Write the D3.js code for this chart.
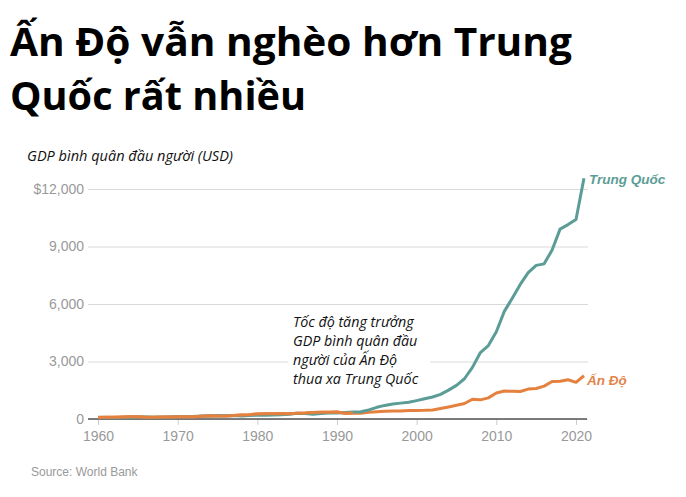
<!DOCTYPE html>
<html><head><meta charset="utf-8">
<script src="https://cdn.jsdelivr.net/npm/d3@7"></script>
<style>body{margin:0;background:#fff}svg{display:block}</style>
</head><body>
<svg id="c" width="686" height="497"></svg>
<script>
const years = d3.range(1960, 2022);
const china = [89.5,75.8,70.9,74.3,85.5,98.5,104.3,96.6,91.5,100.1,113.2,118.7,131.9,157.1,160.1,178.3,165.4,185.4,156.4,183.9,194.8,197.1,203.3,225.4,250.7,294.5,281.9,251.8,283.5,310.9,317.9,333.1,366.5,377.4,473.5,609.7,709.4,781.7,828.6,873.3,959.4,1053.1,1148.5,1288.6,1508.7,1753.4,2099.2,2694.0,3468.3,3832.2,4550.5,5614.4,6300.6,7020.4,7636.1,8016.4,8094.4,8817.0,9905.3,10143.9,10408.7,12556.3];
const india = [82.2,85.4,89.9,101.1,115.5,119.0,89.9,96.0,98.5,106.7,112.4,118.6,122.9,143.7,163.2,158.0,161.1,186.4,205.7,224.0,266.6,270.5,274.2,291.2,276.7,296.4,310.5,340.4,354.2,346.1,367.6,303.1,316.9,301.2,346.2,373.8,399.9,415.5,413.3,441.8,443.3,451.6,470.0,546.7,627.8,714.9,806.8,1028.3,998.5,1102.0,1357.6,1458.1,1443.9,1438.1,1559.9,1590.2,1714.3,1958.0,1974.4,2050.2,1913.2,2256.6];
const yTicks = [0,3000,6000,9000,12000];
const xTicks = [1960,1970,1980,1990,2000,2010,2020];
const titleLines = ["Ấn Độ vẫn nghèo hơn Trung","Quốc rất nhiều"];
const yTitle = "GDP bình quân đầu người (USD)";
const note = ["Tốc độ tăng trưởng","GDP bình quân đầu","người của Ấn Độ","thua xa Trung Quốc"];
const seriesNames = ["Trung Quốc","Ấn Độ"];
const source = "Source: World Bank";

const svg = d3.select("#c");
const x = d3.scaleLinear().domain([1960,2020]).range([98,576]);
const y = d3.scaleLinear().domain([0,12000]).range([419,189]);
const teal = "#5c9c96", orange = "#e5813f";

// title
const tl = svg.append("g");
tl.append("text").attr("x",10).attr("y",56).text(titleLines[0])
  .attr("textLength",562).attr("lengthAdjust","spacingAndGlyphs");
tl.append("text").attr("x",10).attr("y",110).text(titleLines[1])
  .attr("textLength",296).attr("lengthAdjust","spacingAndGlyphs");
tl.selectAll("text").attr("font-family","'Open Sans'").attr("font-weight",700).attr("font-size",39).attr("fill","#000");

svg.append("text").attr("x",27).attr("y",161).text(yTitle)
  .attr("font-family","'Open Sans'").attr("font-style","italic").attr("font-size",14.5)
  .attr("textLength",206).attr("lengthAdjust","spacingAndGlyphs").attr("fill","#111");

// gridlines + y labels
const yAxis = d3.axisLeft(y).tickValues(yTicks).tickSize(-500).tickPadding(4)
  .tickFormat(d => d === 12000 ? "$" + d3.format(",")(d) : d3.format(",")(d));
const ga = svg.append("g").attr("transform","translate(88,0)").call(yAxis);
ga.select(".domain").remove();
ga.selectAll(".tick line").attr("stroke","#d9d9d9").attr("stroke-width",1);
ga.selectAll(".tick text").attr("font-family","'Liberation Sans', Arial").attr("font-size",14).attr("fill","#999");

// annotation box
svg.append("rect").attr("x",288).attr("y",309).attr("width",142).attr("height",83).attr("fill","#fff");
const nt = svg.append("g");
note.forEach((t,i)=>{
  nt.append("text").attr("x",293).attr("y",327+i*19).text(t)
    .attr("font-family","'Open Sans'").attr("font-style","italic").attr("font-size",14.3).attr("fill","#111");
});

// x axis
const xAxis = d3.axisBottom(x).tickValues(xTicks).tickFormat(d3.format("d")).tickSize(6).tickPadding(6);
const gx = svg.append("g").attr("transform","translate(0,419)").call(xAxis);
gx.select(".domain").remove();
gx.selectAll(".tick line").attr("stroke","#ccc");
gx.selectAll(".tick text").attr("font-family","'Liberation Sans', Arial").attr("font-size",14).attr("fill","#999");
svg.append("line").attr("x1",88).attr("x2",587).attr("y1",y(0)).attr("y2",y(0)).attr("stroke","#555").attr("stroke-width",1.5);

// lines
const line = d3.line().x((d,i)=>x(years[i])).y(d=>y(d));
svg.append("path").datum(india).attr("d",line).attr("fill","none").attr("stroke",orange).attr("stroke-width",3).attr("stroke-linejoin","round");
svg.append("path").datum(china).attr("d",line).attr("fill","none").attr("stroke",teal).attr("stroke-width",3).attr("stroke-linejoin","round");
// redraw India where it's above China (early years)
svg.append("path").datum(india.slice(0,33)).attr("d",line).attr("fill","none").attr("stroke",orange).attr("stroke-width",3).attr("stroke-linejoin","round");

// series labels
svg.append("text").attr("x",589).attr("y",184).text(seriesNames[0]).attr("fill",teal);
svg.append("text").attr("x",587).attr("y",385).text(seriesNames[1]).attr("fill","#e3844a");
svg.selectAll("text").filter(function(){return seriesNames.includes(this.textContent);})
  .attr("font-family","'Liberation Sans', Arial").attr("font-weight",700).attr("font-style","italic").attr("font-size",13.5);

svg.append("text").attr("x",31).attr("y",476).text(source)
  .attr("font-family","'Liberation Sans', Arial").attr("font-size",12).attr("fill","#999");
</script>
</body></html>
